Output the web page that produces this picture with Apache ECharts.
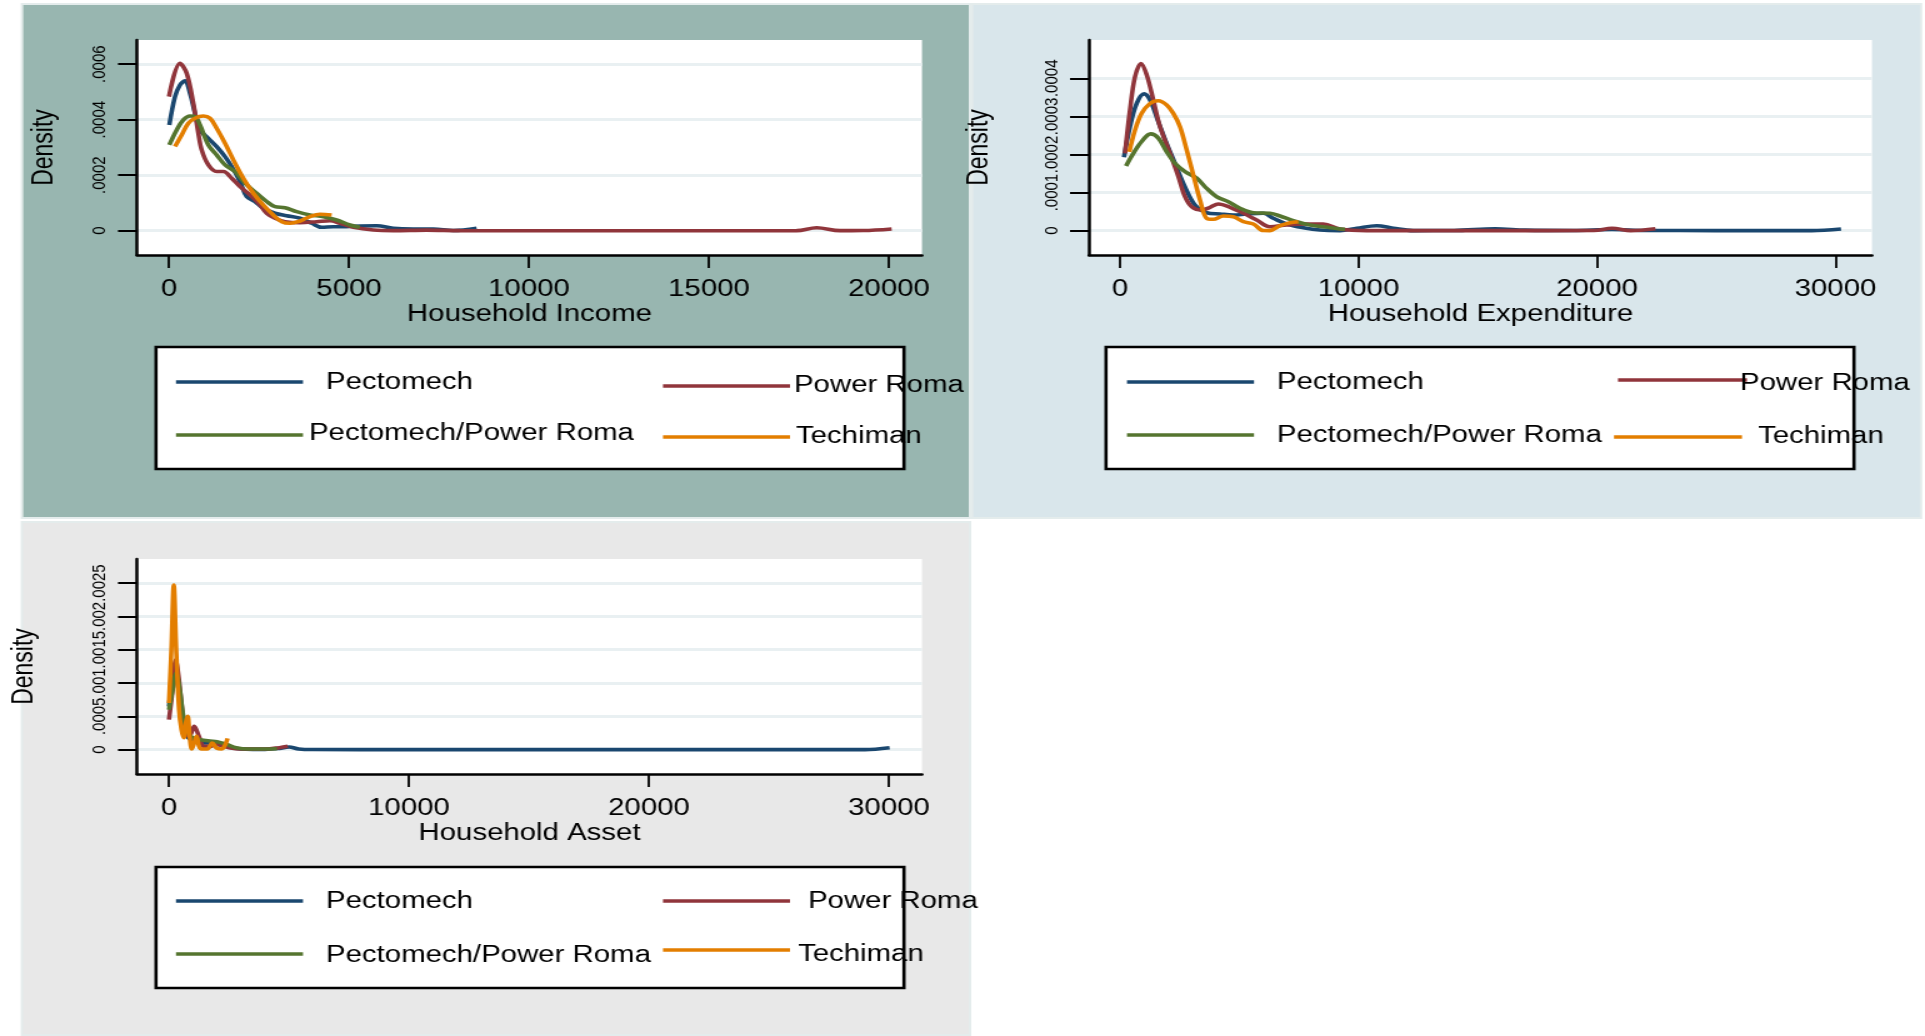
<!DOCTYPE html>
<html>
<head>
<meta charset="utf-8">
<script src="https://cdn.jsdelivr.net/npm/echarts@6.0.0/dist/echarts.min.js"></script>
<style>
html,body{margin:0;padding:0;background:#ffffff;overflow:hidden;}
#c{width:1540px;height:1036px;transform:scaleX(1.25);transform-origin:0 0;}
</style>
</head>
<body>
<div id="c"></div>
<script>
// ---------- DATA ----------
const seriesNames = ['Pectomech', 'Power Roma', 'Pectomech/Power Roma', 'Techiman'];
const seriesColors = ['#1a476f', '#90353b', '#55752f', '#e37e00'];

// Household Income densities [income, density]
const incomePectomech = [[9,0.000381],[167,0.000483],[305,0.000525],[444,0.00054],[583,0.000495],[722,0.000423],[861,0.000363],[1093,0.000333],[1324,0.000303],[1556,0.000267],[1741,0.000231],[1972,0.000177],[2157,0.000123],[2389,0.000105],[2620,0.0000807],[2944,0.0000627],[3269,0.000054],[3639,0.0000447],[3963,0.0000267],[4241,0.0000122],[4565,0.0000144],[4935,0.0000144],[5306,0.000017],[5769,0.000018],[6231,0.0000086],[6787,0.000006],[7343,0.000006],[7898,0.0000005],[8546,0.0000086]];
const incomePowerRoma = [[0,0.000483],[305,0.000603],[491,0.000567],[676,0.000459],[815,0.000351],[907,0.000291],[1093,0.000237],[1324,0.000213],[1509,0.000213],[1741,0.000189],[1972,0.000159],[2250,0.000129],[2528,0.000093],[2713,0.0000627],[2944,0.0000447],[3222,0.0000324],[3639,0.0000288],[4102,0.0000324],[4472,0.000036],[4750,0.0000267],[5120,0.0000122],[5676,0.0000025],[6231,0.0000002],[7157,0.000002],[8083,0.0000002],[10000,0],[12000,0],[14000,0],[16000,0],[17436,0.0000002],[17990,0.0000108],[18639,0.0000002],[19287,0.0000005],[20074,0.000006]];
const incomeMixed = [[9,0.000309],[213,0.000363],[398,0.000399],[583,0.000413],[722,0.000411],[861,0.000381],[1093,0.000309],[1324,0.000273],[1556,0.000237],[1833,0.000213],[2111,0.000171],[2435,0.000135],[2713,0.000105],[2944,0.0000865],[3222,0.0000829],[3546,0.0000685],[3917,0.0000566],[4287,0.0000505],[4657,0.0000386],[5028,0.0000205],[5300,0.000012]];
const incomeTechiman = [[167,0.000303],[352,0.000345],[537,0.000387],[722,0.000405],[954,0.000413],[1139,0.000405],[1324,0.000369],[1556,0.000315],[1787,0.000255],[2065,0.000189],[2343,0.000135],[2620,0.0000926],[2898,0.0000566],[3130,0.0000324],[3361,0.0000267],[3639,0.000035],[3917,0.0000505],[4194,0.000059],[4519,0.0000566]];

// Household Expenditure densities
const expPectomech = [[168,0.000193],[419,0.000273],[700,0.000334],[1006,0.000359],[1258,0.000343],[1607,0.000286],[1957,0.000229],[2306,0.000177],[2725,0.000115],[3145,0.0000675],[3634,0.0000472],[4193,0.0000438],[4752,0.0000412],[5311,0.0000438],[6010,0.0000457],[6428,0.0000325],[6988,0.0000176],[7686,0.0000079],[8386,0.0000018],[9224,0.0000003],[9924,0.0000063],[10762,0.0000131],[11461,0.0000063],[12299,0.0000003],[14000,0.0000005],[15723,0.000005],[17000,0.0000015],[19000,0.0000005],[20629,0.000003],[22000,0.0000005],[25000,0.0000003],[29000,0.0000003],[30231,0.0000045]];
const expPowerRoma = [[210,0.000203],[419,0.000317],[629,0.000404],[880,0.000439],[1119,0.000409],[1397,0.000343],[1677,0.000273],[2096,0.000203],[2446,0.000142],[2725,0.0000892],[3005,0.000063],[3424,0.0000543],[3774,0.0000614],[4123,0.00007],[4612,0.0000614],[5171,0.0000457],[5730,0.0000281],[6289,0.0000105],[6988,0.000015],[7827,0.0000176],[8526,0.0000176],[9224,0.0000045],[10343,0.0000003],[13000,0.0000002],[16000,0.0000002],[19874,0.0000005],[20629,0.0000063],[21418,0.0000003],[22449,0.0000053]];
const expMixed = [[252,0.00017],[559,0.000203],[908,0.000234],[1286,0.000254],[1607,0.000243],[1957,0.000207],[2306,0.000177],[2725,0.000155],[3214,0.000138],[3634,0.000111],[4053,0.0000892],[4542,0.0000761],[5031,0.0000588],[5590,0.0000472],[6289,0.0000457],[6709,0.0000386],[7267,0.0000262],[7966,0.000015],[8805,0.0000079],[9434,0.0000037]];
const expTechiman = [[391,0.000207],[629,0.000264],[908,0.000308],[1258,0.000334],[1607,0.000341],[1957,0.00033],[2236,0.000308],[2516,0.000273],[2795,0.000212],[3075,0.000146],[3354,0.0000806],[3634,0.0000325],[3913,0.0000299],[4333,0.0000386],[4752,0.0000367],[5171,0.0000236],[5590,0.0000176],[6010,0.0000005],[6289,0.0000003],[6709,0.0000131],[7128,0.000021],[7477,0.0000236]];

// Household Asset densities
const assetPectomech = [[0,0.00065],[120,0.001],[250,0.00125],[380,0.00095],[500,0.0006],[650,0.0003],[800,0.00018],[1000,0.00015],[1300,0.0001],[1600,0.0001],[2000,0.00008],[2500,0.00004],[3000,0.00001],[3500,0.000005],[4000,0.000005],[4600,0.00002],[5000,0.00004],[5400,0.00001],[6000,0.000002],[10000,0.000001],[20000,0.000001],[29000,0.000001],[30025,0.00003]];
const assetPowerRoma = [[0,0.00045],[150,0.0009],[280,0.00135],[400,0.0011],[550,0.0006],[700,0.00025],[850,0.0002],[1050,0.00035],[1250,0.0002],[1450,0.00005],[1700,0.00005],[2000,0.00008],[2500,0.00003],[3000,0.00001],[4000,0.00001],[4600,0.00003],[4950,0.00005]];
const assetMixed = [[0,0.0006],[150,0.0009],[300,0.00115],[450,0.0009],[600,0.0005],[800,0.00025],[1000,0.00018],[1300,0.00015],[1700,0.00013],[2000,0.00012],[2400,0.00008],[2800,0.00003],[3300,0.00001],[4000,0.00001],[4500,0.000015]];
const assetTechiman = [[0,0.0007],[100,0.0015],[200,0.00247],[300,0.0015],[420,0.0006],[520,0.0003],[620,0.00018],[700,0.0004],[780,0.0005],[860,0.0002],[950,0.00001],[1050,0.0001],[1150,0.0002],[1250,0.00005],[1350,0.00001],[1600,0.00001],[1800,0.0001],[2000,0.00002],[2200,0.00001],[2440,0.00017]];

// Axis ticks and labels
const incomeXTicks = [0, 5000, 10000, 15000, 20000];
const incomeYTicks = [0, 0.0002, 0.0004, 0.0006];
const incomeYLabels = ['0', '.0002', '.0004', '.0006'];
const expXTicks = [0, 10000, 20000, 30000];
const expYTicks = [0, 0.0001, 0.0002, 0.0003, 0.0004];
const expYLabels = ['0', '.0001', '.0002', '.0003', '.0004'];
const assetXTicks = [0, 10000, 20000, 30000];
const assetYTicks = [0, 0.0005, 0.001, 0.0015, 0.002, 0.0025];
const assetYLabels = ['0', '.0005', '.001', '.0015', '.002', '.0025'];
const axisTitles = ['Household Income', 'Household Expenditure', 'Household Asset'];
const yTitle = 'Density';

// ---------- LAYOUT (full-page px; chart is drawn at 1/SX width then stretched) ----------
const SX = 1.25;
const X = v => v / SX;
const FONT = '"Liberation Sans", Arial, Helvetica, sans-serif';

const panels = [
  { rect: [22, 4, 970, 518], bg: '#98b6b0', yNameGap: 62,
    grid: [137, 40, 922, 255], xMin: -889, xMax: 20917, yMin: -0.0000876, yMax: 0.000687,
    xTicks: incomeXTicks, yTicks: incomeYTicks, yLabels: incomeYLabels, title: axisTitles[0],
    data: [incomePectomech, incomePowerRoma, incomeMixed, incomeTechiman],
    legendBox: [156, 347, 904, 469],
    legend: [[176,303,382,326,383],[663,790,386,794,386],[176,303,435,309,434],[663,790,437,796,437]] },
  { rect: [972, 4, 1921, 518], bg: '#d9e6eb', yNameGap: 76,
    grid: [1089, 40, 1872, 255], xMin: -1300, xMax: 31530, yMin: -0.0000638, yMax: 0.0005005,
    xTicks: expXTicks, yTicks: expYTicks, yLabels: expYLabels, title: axisTitles[1],
    data: [expPectomech, expPowerRoma, expMixed, expTechiman],
    legendBox: [1106, 347, 1854, 469],
    legend: [[1127,1254,382,1277,383],[1618,1747,380,1740,384],[1127,1254,435,1277,436],[1614,1742,437,1758,437]] },
  { rect: [22, 522, 970, 1035], bg: '#e8e8e8', yNameGap: 78,
    grid: [137, 559, 922, 774], xMin: -1333, xMax: 31375, yMin: -0.000365, yMax: 0.002861,
    xTicks: assetXTicks, yTicks: assetYTicks, yLabels: assetYLabels, title: axisTitles[2],
    data: [assetPectomech, assetPowerRoma, assetMixed, assetTechiman],
    legendBox: [156, 867, 904, 988],
    legend: [[176,303,901,326,902],[663,790,901,808,902],[176,303,954,326,956],[663,790,950,798,955]] }
];

const grids = [], xAxes = [], yAxes = [], series = [], graphics = [];

panels.forEach((p, i) => {
  graphics.push({ type: 'rect', z: -10, silent: true,
    shape: { x: X(p.rect[0]), y: p.rect[1], width: X(p.rect[2]) - X(p.rect[0]), height: p.rect[3] - p.rect[1] },
    style: { fill: p.bg, stroke: '#e4ecec', lineWidth: 2 } });
  grids.push({ left: X(p.grid[0]), top: p.grid[1], width: X(p.grid[2]) - X(p.grid[0]), height: p.grid[3] - p.grid[1],
    show: true, backgroundColor: '#ffffff', borderWidth: 0 });
  xAxes.push({ type: 'value', gridIndex: i, min: p.xMin, max: p.xMax,
    axisLine: { show: true, onZero: false, lineStyle: { color: '#000', width: 2.5 } },
    axisTick: { show: true, customValues: p.xTicks, length: 13, lineStyle: { color: '#000', width: 1.8 } },
    axisLabel: { customValues: p.xTicks, margin: 23, fontSize: 23.5, color: '#000', fontFamily: FONT,
      formatter: v => String(Math.round(v)) },
    splitLine: { show: false },
    name: p.title, nameLocation: 'middle', nameGap: 46,
    nameTextStyle: { fontSize: 23.5, color: '#000', fontFamily: FONT } });
  const labs = p.yLabels, ticks = p.yTicks;
  yAxes.push({ type: 'value', gridIndex: i, min: p.yMin, max: p.yMax,
    axisLine: { show: true, onZero: false, lineStyle: { color: '#000', width: 2.5 } },
    axisTick: { show: true, customValues: ticks, length: X(19), lineStyle: { color: '#000', width: 2 } },
    axisLabel: { customValues: ticks, rotate: 90, margin: 22, fontSize: 15, color: '#000', fontFamily: FONT,
      formatter: v => { let k = 0, best = Infinity; ticks.forEach((t, j) => { const d = Math.abs(t - v); if (d < best) { best = d; k = j; } }); return labs[k]; } },
    splitLine: { show: true, lineStyle: { color: '#e9f0f2', width: 3 } },
    name: yTitle, nameLocation: 'middle', nameGap: p.yNameGap,
    nameTextStyle: { fontSize: 23, color: '#000', fontFamily: FONT } });
  p.data.forEach((d, k) => {
    series.push({ type: 'line', name: seriesNames[k], xAxisIndex: i, yAxisIndex: i, data: d,
      showSymbol: false, smooth: 0.35, lineStyle: { color: seriesColors[k], width: 3.6 },
      itemStyle: { color: seriesColors[k] }, z: 3 + (k === 1 ? 0 : k) });
  });
  // legend box
  const lb = p.legendBox;
  graphics.push({ type: 'rect', z: 50, silent: true,
    shape: { x: X(lb[0]), y: lb[1], width: X(lb[2]) - X(lb[0]), height: lb[3] - lb[1] },
    style: { fill: '#ffffff', stroke: '#000', lineWidth: 2.6 } });
  p.legend.forEach((it, k) => {
    graphics.push({ type: 'line', z: 51, silent: true,
      shape: { x1: X(it[0]), y1: it[2], x2: X(it[1]), y2: it[2] },
      style: { stroke: seriesColors[k], lineWidth: 3.6 } });
    graphics.push({ type: 'text', z: 52, silent: true, x: X(it[3]), y: it[4],
      style: { text: seriesNames[k], fill: '#000', fontSize: 23.5, fontFamily: FONT, verticalAlign: 'middle', align: 'left' } });
  });
});

const chart = echarts.init(document.getElementById('c'), null, { renderer: 'canvas' });
chart.setOption({
  animation: false,
  backgroundColor: '#ffffff',
  textStyle: { fontFamily: FONT },
  grid: grids, xAxis: xAxes, yAxis: yAxes, series: series,
  graphic: { elements: graphics }
});
</script>
</body>
</html>
